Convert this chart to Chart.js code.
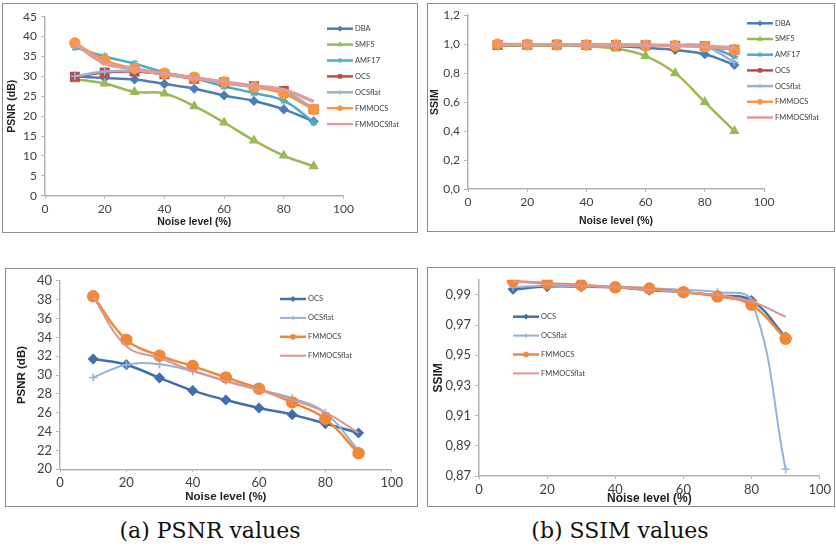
<!DOCTYPE html>
<html>
<head>
<meta charset="utf-8">
<script src="https://cdn.jsdelivr.net/npm/chart.js@4.4.1/dist/chart.umd.min.js"></script>
<style>
  body { margin: 0; width: 836px; height: 548px; background: #fff; position: relative; overflow: hidden; }
  .box { position: absolute; border: 1px solid #8c8c8c; box-sizing: border-box; overflow: hidden; }
  .box canvas { position: absolute; left: 0; top: 0; }
  .cap { position: absolute; top: 517px; width: 320px; text-align: center; font-family: "DejaVu Serif", serif; font-size: 22px; color: #111; line-height: 28px; }
</style>
</head>
<body>
<div class="box" style="left:2px;top:3px;width:416px;height:230px"><canvas id="c1" width="414" height="228"></canvas></div>
<div class="box" style="left:427px;top:3px;width:408px;height:229px"><canvas id="c2" width="406" height="227"></canvas></div>
<div class="box" style="left:5px;top:268px;width:413px;height:239px"><canvas id="c3" width="411" height="237"></canvas></div>
<div class="box" style="left:427px;top:267px;width:408px;height:240px"><canvas id="c4" width="406" height="238"></canvas></div>
<div class="cap" style="left:50px">(a) PSNR values</div>
<div class="cap" style="left:460px">(b) SSIM values</div>
<script>
// niveaux de bruit (%)
const noise = [10, 20, 30, 40, 50, 60, 70, 80, 90];

// PSNR, toutes les méthodes (haut gauche)
const psnrDBA = [30.0, 29.6, 29.2, 28.1, 26.9, 25.2, 23.8, 21.7, 18.7];
const psnrSMF5 = [29.3, 28.2, 26.1, 25.7, 22.5, 18.4, 13.9, 10.1, 7.4];
const psnrAMF17 = [37.3, 35.0, 33.2, 31.0, 29.5, 27.5, 25.8, 23.9, 18.5];
const psnrOCS = [29.9, 31.0, 31.2, 30.5, 29.4, 28.5, 27.5, 26.3, 21.7];
const psnrOCSflat = [30.0, 31.2, 31.4, 30.7, 29.6, 28.2, 27.3, 26.1, 22.0];
const psnrFMMOCS = [38.4, 34.1, 32.0, 30.8, 29.8, 28.6, 27.3, 25.6, 21.7];
const psnrFMMOCSflat = [38.3, 33.3, 31.9, 30.6, 29.6, 28.6, 27.6, 26.6, 23.7];

// SSIM, toutes les méthodes (haut droite, repris en bas droite)
const ssimDBA = [0.990, 0.990, 0.990, 0.989, 0.985, 0.975, 0.960, 0.930, 0.857];
const ssimSMF5 = [0.990, 0.990, 0.989, 0.985, 0.970, 0.918, 0.800, 0.600, 0.400];
const ssimAMF17 = [0.998, 0.998, 0.998, 0.997, 0.996, 0.995, 0.993, 0.990, 0.915];
const ssimOCS = [0.9937, 0.9955, 0.9955, 0.9950, 0.9931, 0.9918, 0.9896, 0.9863, 0.9620];
const ssimOCSflat = [0.9950, 0.9961, 0.9955, 0.9955, 0.9944, 0.9933, 0.9918, 0.9860, 0.8744];
const ssimFMMOCS = [0.9992, 0.9977, 0.9966, 0.9950, 0.9942, 0.9918, 0.9889, 0.9834, 0.9609];
const ssimFMMOCSflat = [0.9992, 0.9972, 0.9961, 0.9950, 0.9933, 0.9918, 0.9900, 0.9856, 0.9755];

// PSNR, méthodes OCS seulement (bas gauche)
const psnr2OCS = [31.7, 31.1, 29.7, 28.35, 27.35, 26.5, 25.8, 24.85, 23.85];
const psnr2OCSflat = [29.75, 31.1, 31.15, 30.4, 29.4, 28.45, 27.55, 26.0, 22.0];
const psnr2FMMOCS = [38.35, 33.75, 32.05, 30.95, 29.75, 28.55, 27.1, 25.35, 21.7];
const psnr2FMMOCSflat = [38.3, 33.05, 31.8, 30.45, 29.35, 28.4, 27.35, 26.05, 23.85];

// graduations
const xTicks = [0, 20, 40, 60, 80, 100];
const ssimZoomTicks = [0.87, 0.89, 0.91, 0.93, 0.95, 0.97, 0.99];

const FONT = 'Lato, "Liberation Sans", sans-serif';
const TITLE_FONT = '"Liberation Sans", Arial, sans-serif';
const AXIS = '#b3b3b3';
const TXT = '#404040';

// styles des séries
const styleFull = {
  DBA: { color: '#4A7EBB', pointStyle: 'rectRot', r: 4, w: 2.5 },
  SMF5: { color: '#98B954', pointStyle: 'triangle', r: 4.5, w: 2.5 },
  AMF17: { color: '#4BACC6', pointStyle: 'star', r: 4, w: 2.5 },
  OCS: { color: '#BE4B48', pointStyle: 'rect', r: 6, w: 2.5 },
  OCSflat: { color: '#95B3D7', pointStyle: 'cross', r: 4, w: 2.5 },
  FMMOCS: { color: '#F79646', pointStyle: 'circle', r: 5, w: 2.5 },
  FMMOCSflat: { color: '#DE9C9A', pointStyle: 'circle', r: 0, w: 3.5 }
};
const styleOcs = {
  OCS: { color: '#3F6FAE', pointStyle: 'rectRot', r: 4.5, w: 2.5 },
  OCSflat: { color: '#95B3D7', pointStyle: 'cross', r: 4, w: 2 },
  FMMOCS: { color: '#F0883A', pointStyle: 'circle', r: 5.5, w: 2.5 },
  FMMOCSflat: { color: '#D99694', pointStyle: 'circle', r: 0, w: 2 }
};

function makeSets(labels, series, styles) {
  return labels.map((name, i) => {
    const s = styles[name];
    return {
      label: name,
      data: noise.map((x, k) => ({ x: x, y: series[i][k] })),
      borderColor: s.color,
      backgroundColor: s.color,
      pointBackgroundColor: s.color,
      pointBorderColor: s.color,
      pointStyle: s.pointStyle,
      pointRadius: s.r,
      pointBorderWidth: 1.5,
      borderWidth: s.w,
      tension: 0.4,
      order: -i
    };
  });
}

// légende dessinée à côté du graphique
const sideLegend = {
  id: 'sideLegend',
  afterDraw(chart, args, opts) {
    const ctx = chart.ctx;
    ctx.save();
    chart.data.datasets.forEach((ds, i) => {
      const y = opts.y + i * opts.gap;
      ctx.strokeStyle = ds.borderColor;
      ctx.lineWidth = Math.min(ds.borderWidth, 2.5);
      ctx.beginPath();
      ctx.moveTo(opts.x, y);
      ctx.lineTo(opts.x + opts.len, y);
      ctx.stroke();
      if (ds.pointRadius > 0) {
        ctx.fillStyle = ds.pointBackgroundColor;
        ctx.strokeStyle = ds.pointBorderColor;
        ctx.lineWidth = 1;
        Chart.helpers.drawPoint(ctx, { pointStyle: ds.pointStyle, radius: opts.r, borderWidth: 1, rotation: 0 }, opts.x + opts.len / 2, y);
      }
      ctx.fillStyle = TXT;
      ctx.font = opts.font;
      ctx.textBaseline = 'middle';
      ctx.textAlign = 'left';
      ctx.fillText(ds.label, opts.x + opts.len + 2, y);
    });
    ctx.restore();
  }
};

function makeChart(id, cfg) {
  const fixedX = s => { s.height = cfg.xH; };
  const fixedY = s => { s.width = cfg.yW; };
  return new Chart(document.getElementById(id), {
    type: 'line',
    data: { datasets: cfg.datasets },
    plugins: [sideLegend],
    options: {
      responsive: false,
      animation: false,
      layout: { padding: cfg.pad },
      plugins: {
        legend: { display: false },
        tooltip: { enabled: false },
        sideLegend: cfg.legend
      },
      scales: {
        x: {
          type: 'linear', min: 0, max: 100,
          afterFit: fixedX,
          afterBuildTicks: s => { s.ticks = xTicks.map(v => ({ value: v })); },
          grid: { display: true, drawOnChartArea: false, drawTicks: true, tickLength: 3, color: AXIS },
          border: { color: AXIS, width: 1.5 },
          ticks: { color: TXT, padding: cfg.xTickPad, font: { family: FONT, size: cfg.tickSize }, maxRotation: 0 },
          title: { display: true, text: 'Noise level (%)', color: '#222', padding: { top: 0, bottom: cfg.xTitlePad },
                   font: { family: TITLE_FONT, size: cfg.titleSize, weight: 'bold' } }
        },
        y: {
          type: 'linear', min: cfg.yMin, max: cfg.yMax,
          afterFit: fixedY,
          afterBuildTicks: cfg.yTicks ? (s => { s.ticks = cfg.yTicks.map(v => ({ value: v })); }) : undefined,
          grid: { display: true, drawOnChartArea: false, drawTicks: true, tickLength: 4, color: AXIS },
          border: { color: AXIS, width: 1.5 },
          ticks: { color: TXT, padding: 4, stepSize: cfg.yStep, font: { family: FONT, size: cfg.tickSize },
                   callback: v => v.toFixed(cfg.dec).replace('.', ',') },
          title: { display: true, text: cfg.yTitle, color: '#222', padding: { top: cfg.yTitlePad, bottom: 0 },
                   font: { family: TITLE_FONT, size: cfg.titleSize, weight: 'bold' } }
        }
      }
    }
  });
}

const allNames = ['DBA', 'SMF5', 'AMF17', 'OCS', 'OCSflat', 'FMMOCS', 'FMMOCSflat'];
const ocsNames = ['OCS', 'OCSflat', 'FMMOCS', 'FMMOCSflat'];

makeChart('c1', {
  datasets: makeSets(allNames, [psnrDBA, psnrSMF5, psnrAMF17, psnrOCS, psnrOCSflat, psnrFMMOCS, psnrFMMOCSflat], styleFull),
  pad: { left: 0, right: 73.5, top: 12.7, bottom: 0 }, yW: 42, xH: 36.3,
  yMin: 0, yMax: 45, yStep: 5, dec: 0, yTitle: 'PSNR (dB)',
  tickSize: 12, titleSize: 10.5, xTickPad: 3, xTitlePad: 4, yTitlePad: 3,
  legend: { x: 324, y: 24.7, gap: 15.9, len: 26, r: 2.5, font: '7.5px ' + FONT }
});

makeChart('c2', {
  datasets: makeSets(allNames, [ssimDBA, ssimSMF5, ssimAMF17, ssimOCS, ssimOCSflat, ssimFMMOCS, ssimFMMOCSflat], styleFull),
  pad: { left: 0, right: 70, top: 6, bottom: 0 }, yW: 40, xH: 42,
  yMin: 0, yMax: 1.2, yStep: 0.2, dec: 1, yTitle: 'SSIM',
  tickSize: 12, titleSize: 10.5, xTickPad: 3, xTitlePad: 3.5, yTitlePad: 0.5,
  legend: { x: 319, y: 19.3, gap: 15.7, len: 26, r: 2.5, font: '7.5px ' + FONT }
});

makeChart('c3', {
  datasets: makeSets(ocsNames, [psnr2OCS, psnr2OCSflat, psnr2FMMOCS, psnr2FMMOCSflat], styleOcs),
  pad: { left: 0, right: 25.3, top: 10.3, bottom: 0 }, yW: 54, xH: 36.7,
  yMin: 20, yMax: 40, yStep: 2, dec: 0, yTitle: 'PSNR (dB)',
  tickSize: 13, titleSize: 11.5, xTickPad: 3, xTitlePad: 2.3, yTitlePad: 8.5,
  legend: { x: 274, y: 30, gap: 18.9, len: 26, r: 2.5, font: '7.5px ' + FONT }
});

makeChart('c4', {
  datasets: makeSets(ocsNames, [ssimOCS, ssimOCSflat, ssimFMMOCS, ssimFMMOCSflat], styleOcs),
  pad: { left: 0, right: 12.3, top: 10.3, bottom: 0 }, yW: 51, xH: 30,
  yMin: 0.87, yMax: 1.0, yTicks: ssimZoomTicks, dec: 2, yTitle: 'SSIM',
  tickSize: 13, titleSize: 12, xTickPad: 3, xTitlePad: 0, yTitlePad: 3,
  legend: { x: 85, y: 48.7, gap: 18.9, len: 26, r: 2.5, font: '7.5px ' + FONT }
});
</script>
</body>
</html>
